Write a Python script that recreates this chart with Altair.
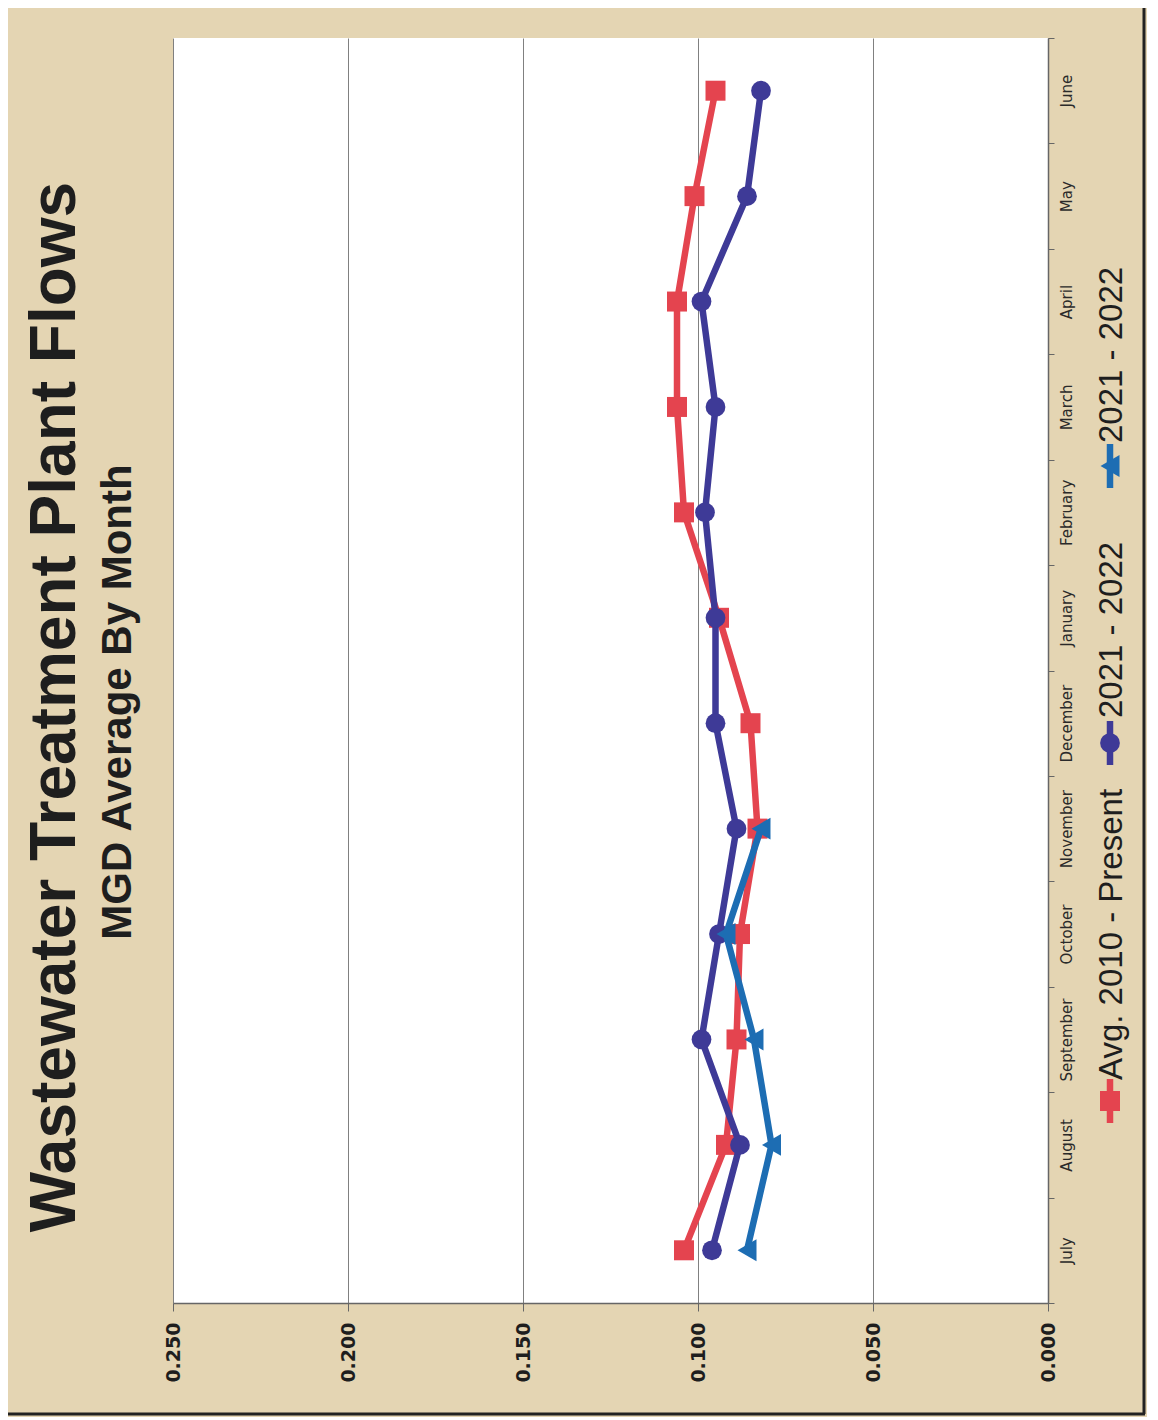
import altair as alt
import pandas as pd

# ---------------- data ----------------
months = ["July", "August", "September", "October", "November", "December",
          "January", "February", "March", "April", "May", "June"]
avg_2010_present = [0.104, 0.092, 0.089, 0.088, 0.083, 0.085,
                    0.094, 0.104, 0.106, 0.106, 0.101, 0.095]
series_2021_2022 = [0.096, 0.088, 0.099, 0.094, 0.089, 0.095,
                    0.095, 0.098, 0.095, 0.099, 0.086, 0.082]
series_2021_2022_b = [0.086, 0.079, 0.084, 0.092, 0.082]

value_ticks = [0.0, 0.05, 0.10, 0.15, 0.20, 0.25]
legend_labels = ["Avg. 2010 - Present", "2021 - 2022", "2021 - 2022"]
title_text = "Wastewater Treatment Plant Flows"
subtitle_text = "MGD Average By Month"

# ---------------- styling ----------------
RED = "#e4444f"
PURPLE = "#3e3a97"
BLUE = "#1d6db3"
PARCHMENT = "#e4d5b3"
INK = "#1e1e1e"

W, H = 875, 1265

x_enc = alt.X(
    "value:Q",
    scale=alt.Scale(domain=[0, 0.25], reverse=True, nice=False, zero=True),
    axis=alt.Axis(
        orient="bottom", values=value_ticks, format=".3f", title=None,
        labelAngle=270, labelAlign="right", labelBaseline="middle",
        labelFont="DejaVu Sans", labelFontWeight="bold", labelFontSize=19,
        labelColor=INK, tickSize=8, labelPadding=11, tickColor="#666666",
        domainColor="#666666", domainWidth=1.5, grid=True, gridColor="#808080",
        gridWidth=1, labelOverlap=False,
    ),
)
y_enc = alt.Y(
    "month:N",
    sort=None,
    scale=alt.Scale(type="band", domain=months[::-1], paddingInner=0, paddingOuter=0),
    axis=alt.Axis(
        orient="right", title=None, tickBand="extent", grid=False,
        labelAngle=270, labelAlign="center", labelBaseline="top",
        labelFont="DejaVu Sans", labelFontSize=15, labelColor="#2a2a2a",
        tickSize=6, labelPadding=5, tickColor="#666666", domainColor="#666666",
        domainWidth=1.5, labelOverlap=False,
    ),
)


def series_layers(values, color, shape, size):
    df = pd.DataFrame({
        "month": months[:len(values)],
        "value": values,
        "idx": list(range(len(values))),
    })
    base = alt.Chart(df).encode(x=x_enc, y=y_enc, order=alt.Order("idx:Q"))
    line = base.mark_line(color=color, strokeWidth=6.5, strokeJoin="round")
    pts = base.mark_point(shape=shape, size=size, filled=True, color=color, opacity=1)
    return [line, pts]


layers = []
layers += series_layers(avg_2010_present, RED, "square", 400)
layers += series_layers(series_2021_2022, PURPLE, "circle", 390)
layers += series_layers(series_2021_2022_b, BLUE, "triangle-left", 480)

# ---------------- title (rotated, like the scanned page) ----------------
title_df = pd.DataFrame({"t": [title_text]})
sub_df = pd.DataFrame({"t": [subtitle_text]})
layers.append(
    alt.Chart(title_df).mark_text(
        angle=270, align="center", baseline="alphabetic", font="Liberation Sans",
        fontSize=64, fontWeight="bold", color=INK,
    ).encode(text="t:N", x=alt.value(-98), y=alt.value(669))
)
layers.append(
    alt.Chart(sub_df).mark_text(
        angle=270, align="center", baseline="alphabetic", font="Liberation Sans",
        fontSize=42, fontWeight="bold", color=INK,
    ).encode(text="t:N", x=alt.value(-42), y=alt.value(664))
)

# ---------------- legend (rotated, drawn by hand) ----------------
legend_colors = [RED, PURPLE, BLUE]
legend_shapes = ["square", "circle", "triangle-left"]
legend_sizes = [400, 390, 480]
legend_marker_y = [1063, 705, 428]
legend_text_y = [1042, 680, 405]
LEG_X = 937
for lab, col, shp, sz, my, ty in zip(legend_labels, legend_colors, legend_shapes,
                                      legend_sizes, legend_marker_y, legend_text_y):
    ldf = pd.DataFrame({"t": [lab]})
    layers.append(
        alt.Chart(ldf).mark_rule(color=col, strokeWidth=6.5).encode(
            x=alt.value(LEG_X), y=alt.value(my - 22), y2=alt.value(my + 22))
    )
    layers.append(
        alt.Chart(ldf).mark_point(shape=shp, size=sz, filled=True, color=col, opacity=1)
        .encode(x=alt.value(LEG_X), y=alt.value(my))
    )
    layers.append(
        alt.Chart(ldf).mark_text(
            angle=270, align="left", baseline="alphabetic", font="Liberation Sans",
            fontSize=33, color=INK,
        ).encode(text="t:N", x=alt.value(LEG_X + 12), y=alt.value(ty))
    )

# ---------------- page frame (dark edge of the scanned sheet) ----------------
frame_df = pd.DataFrame({"k": [0]})
layers.append(
    alt.Chart(frame_df).mark_rule(color="#222222", strokeWidth=3).encode(
        x=alt.value(971), y=alt.value(-30), y2=alt.value(1376))
)
layers.append(
    alt.Chart(frame_df).mark_rule(color="#222222", strokeWidth=3).encode(
        x=alt.value(-165), x2=alt.value(972), y=alt.value(1376))
)

chart = alt.layer(*layers).properties(
    width=W,
    height=H,
    autosize=alt.AutoSizeParams(type="none"),
    padding={"left": 165, "top": 30, "right": 99, "bottom": 114},
    background=PARCHMENT,
).configure_view(fill="white", strokeWidth=0)

chart.save("out.html", embed_options={"renderer": "svg", "actions": False})
